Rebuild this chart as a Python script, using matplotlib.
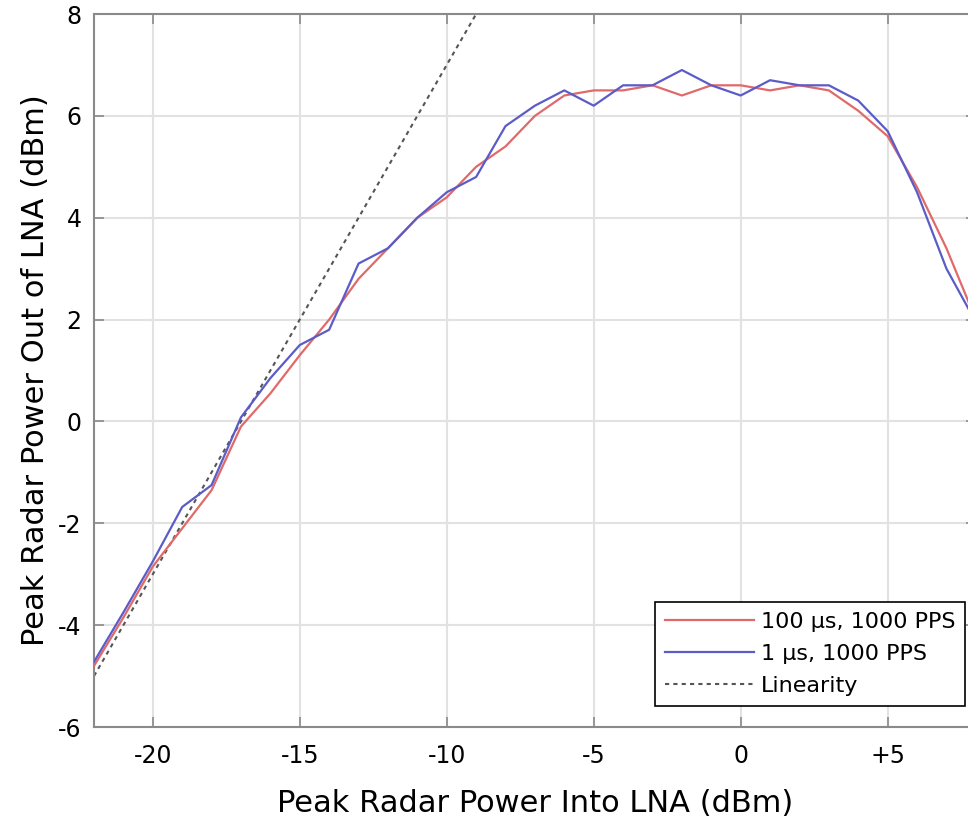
import matplotlib
matplotlib.use("Agg")
import matplotlib.pyplot as plt

# Input power (dBm), 1 dB steps
x_in = [-22, -21, -20, -19, -18, -17, -16, -15, -14, -13, -12, -11, -10, -9, -8,
        -7, -6, -5, -4, -3, -2, -1, 0, 1, 2, 3, 4, 5, 6, 7, 8]

# 100 us, 1000 PPS
out_100us = [-4.8, -3.85, -2.85, -2.1, -1.35, -0.1, 0.55, 1.3, 2.0, 2.8, 3.4, 4.0,
             4.4, 5.0, 5.4, 6.0, 6.4, 6.5, 6.5, 6.6, 6.4, 6.6, 6.6, 6.5, 6.6, 6.5,
             6.1, 5.6, 4.6, 3.4, 2.0]

# 1 us, 1000 PPS
out_1us = [-4.72, -3.75, -2.75, -1.68, -1.25, 0.08, 0.85, 1.5, 1.8, 3.1, 3.4, 4.0,
           4.5, 4.8, 5.8, 6.2, 6.5, 6.2, 6.6, 6.6, 6.9, 6.6, 6.4, 6.7, 6.6, 6.6,
           6.3, 5.7, 4.5, 3.0, 1.95]

# ideal linear response
lin_x = [-22, -9]
lin_y = [-5, 8]

x_ticks = [-20, -15, -10, -5, 0, 5]
x_ticklabels = ["-20", "-15", "-10", "-5", "0", "+5"]
y_ticks = [-6, -4, -2, 0, 2, 4, 6, 8]

RED = "#e06a6a"
BLUE = "#5c5cc8"
GRID = "#e2e2e2"
SPINE = "#8a8a8a"

plt.rcParams["font.family"] = ["DejaVu Sans"]
plt.rcParams["axes.unicode_minus"] = False

fig = plt.figure(figsize=(9.68, 8.24), dpi=100, facecolor="white")
ax = fig.add_axes([0.0971, 0.1177, 0.911, 0.8653])

ax.plot(x_in, out_100us, color=RED, lw=1.6, label="100 \u00b5s, 1000 PPS", zorder=3)
ax.plot(x_in, out_1us, color=BLUE, lw=1.6, label="1 \u00b5s, 1000 PPS", zorder=4)
ax.plot(lin_x, lin_y, color="#555555", lw=1.5, ls=(0, (2, 2)), label="Linearity", zorder=2)

ax.set_xlim(-22, 8)
ax.set_ylim(-6, 8)
ax.set_xticks(x_ticks)
ax.set_xticklabels(x_ticklabels)
ax.set_yticks(y_ticks)

ax.grid(True, color=GRID, lw=1.5)
ax.set_axisbelow(True)
for s in ax.spines.values():
    s.set_color(SPINE)
    s.set_linewidth(1.5)

ax.tick_params(direction="in", length=7, width=1.2, color=SPINE,
               top=True, right=True, labelsize=17)
ax.tick_params(axis="x", pad=12)
ax.tick_params(axis="y", pad=9)

ax.set_xlabel("Peak Radar Power Into LNA (dBm)", fontsize=22, labelpad=15)
ax.set_ylabel("Peak Radar Power Out of LNA (dBm)", fontsize=22, labelpad=6)

leg = ax.legend(loc="lower right", bbox_to_anchor=(0.997, 0.143),
                bbox_transform=fig.transFigure, borderaxespad=0,
                fontsize=16, fancybox=False, framealpha=1,
                handlelength=4.0, handletextpad=0.3, borderpad=0.45,
                labelspacing=0.55)
leg.get_frame().set_edgecolor("black")
leg.get_frame().set_linewidth(1.2)

fig.savefig("out.png", dpi=100, facecolor="white")
